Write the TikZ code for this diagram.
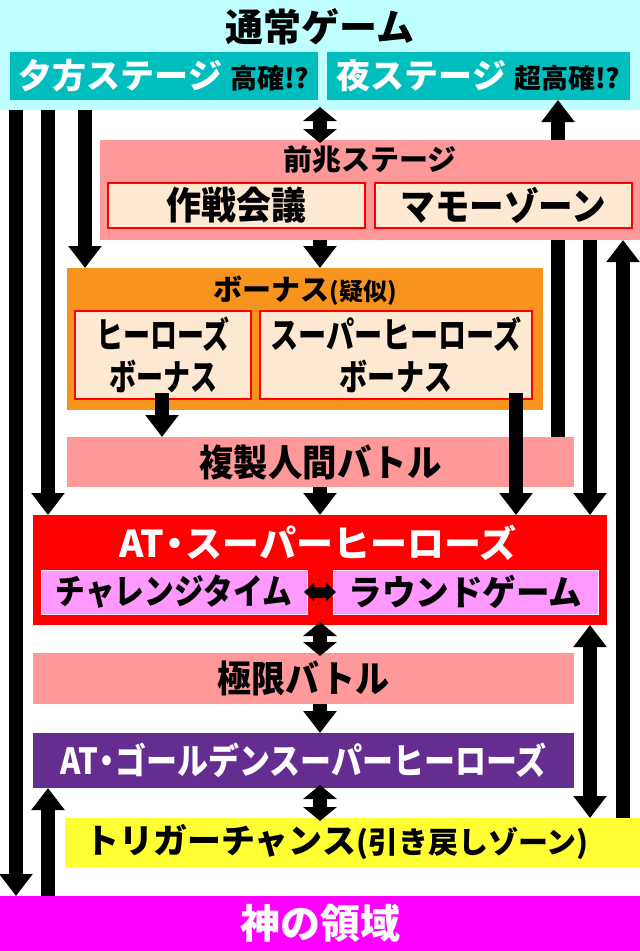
\documentclass[tikz,border=0pt]{standalone}
\usepackage{fontspec}
\usepackage{graphicx}
\usepackage{xcolor}
\usepackage{tikz}
\usetikzlibrary{arrows.meta}
\IfFontExistsTF{Noto Sans CJK JP Black}{\newfontfamily\jp{Noto Sans CJK JP Black}}{%
  \IfFontExistsTF{Noto Sans CJK JP Bold}{\newfontfamily\jp{Noto Sans CJK JP Bold}[FakeBold=1]}{\newfontfamily\jp{Noto Sans CJK JP}[FakeBold=2]}}
\definecolor{cyanbg}{HTML}{BFFFFF}
\definecolor{teal}{HTML}{00BEBE}
\definecolor{pinkbg}{HTML}{FF9999}
\definecolor{peach}{HTML}{FDE8D2}
\definecolor{orangebg}{HTML}{F7941D}
\definecolor{violet}{HTML}{FF99FF}
\definecolor{purplebg}{HTML}{662D91}
\definecolor{yellowbg}{HTML}{FFFF33}
\definecolor{magentabg}{HTML}{FF00FF}
\newcommand{\fs}[1]{\fontsize{#1}{#1}\selectfont}
\newcommand{\sq}[2]{\scalebox{#1}[1]{#2}}
\newcommand{\atdot}{\hspace{-8pt}・\hspace{-8pt}}

\begin{document}
\begin{tikzpicture}[x=1pt,y=-1pt,
    panel/.style={inner sep=0pt,outer sep=0pt,font=\jp},
    subbox/.style={panel,fill=peach,draw=red,line width=1.5pt,align=center},
    pinkbox/.style={panel,fill=violet,draw=white!80!violet,line width=1pt},
    arr/.style={line width=14pt,-{Triangle[width=32pt,length=22pt]}},
    dbl/.style={line width=14pt,{Triangle[width=33pt,length=14pt]}-{Triangle[width=33pt,length=14pt]},shorten <=-3pt,shorten >=-3pt},
    bar/.style={line width=14pt}]
    \useasboundingbox (0,0) rectangle (640,951);
    \node[panel,fill=cyanbg,minimum width=640pt,minimum height=110pt] (band) at (320,55) {};
    \node[panel] (tsujo) at (320,27) {\fs{38}通常ゲーム};
    \node[panel,fill=teal,minimum width=308pt,minimum height=48pt] (yuugata) at (164,76)
        {{\fs{34}\color{white}夕方ステージ}\hspace{8pt}{\fs{27}高確!?}};
    \node[panel,fill=teal,minimum width=303pt,minimum height=48pt] (yoru) at (478.5,76)
        {{\fs{34}\color{white}夜ステージ}\hspace{8pt}{\fs{27}超高確!?}};

    \node[panel,fill=pinkbg,minimum width=540pt,minimum height=100pt] (zencho) at (370,190) {};
    \node[panel] (zenchoT) at (370,160) {\fs{29}前兆ステージ};
    \node[subbox,minimum width=257pt,minimum height=45pt] (sakusen) at (236.5,205.5) {\sq{0.92}{\fs{38}作戦会議}};
    \node[subbox,minimum width=257pt,minimum height=45pt] (mamo) at (503.5,205.5) {\sq{0.91}{\fs{38}マモーゾーン}};

    \node[panel,fill=orangebg,minimum width=476pt,minimum height=142pt] (bonus) at (305,339) {};
    \node[panel] (bonusT) at (305,291) {{\fs{29}ボーナス}{\fs{24}(疑似)}};
    \node[subbox,minimum width=176pt,minimum height=88pt,font=\jp\fontsize{36}{42}\selectfont] (heroes) at (163,355)
        {\sq{0.75}{ヒーローズ}\\\sq{0.75}{ボーナス}};
    \node[subbox,minimum width=272pt,minimum height=88pt,font=\jp\fontsize{36}{42}\selectfont] (superheroes) at (396,355)
        {\sq{0.78}{スーパーヒーローズ}\\\sq{0.78}{ボーナス}};

    \node[panel,fill=pinkbg,minimum width=507pt,minimum height=50pt] (fukusei) at (320.5,462) {\sq{0.93}{\fs{37}複製人間バトル}};

    \node[panel,fill=red,minimum width=574pt,minimum height=110pt] (at) at (320,570) {};
    \node[panel] (atT) at (318,543) {\fs{37}\color{white}AT\atdot スーパーヒーローズ};
    \node[pinkbox,minimum width=266pt,minimum height=44pt] (challenge) at (174,592) {\sq{0.85}{\fs{35}チャレンジタイム}};
    \node[pinkbox,minimum width=265pt,minimum height=44pt] (round) at (465.5,592) {\sq{0.96}{\fs{35}ラウンドゲーム}};

    \node[panel,fill=pinkbg,minimum width=541pt,minimum height=51pt] (kyokugen) at (303.5,678.5) {\sq{0.92}{\fs{37}極限バトル}};
    \node[panel,fill=purplebg,minimum width=541pt,minimum height=55pt] (golden) at (303.5,760.5)
        {\color{white}\sq{0.86}{\fs{36}AT\atdot ゴールデンスーパーヒーローズ}};
    \node[panel,fill=yellowbg,minimum width=575pt,minimum height=49pt] (trigger) at (352.5,842.5) {};
    \node[panel] (triggerT) at (337,842) {{\fs{34}トリガーチャンス}{\fs{30}(引き戻しゾーン)}};
    \node[panel,fill=magentabg,minimum width=640pt,minimum height=55pt] (kami) at (320,923.5) {\color{white}\fs{40}神の領域};

    \coordinate (c1) at (16,0);
    \coordinate (c2) at (48,0);
    \coordinate (c3) at (85,0);
    \coordinate (cs) at (162,0);
    \coordinate (cm) at (320,0);
    \coordinate (ch) at (516,0);
    \coordinate (ce) at (558,0);
    \coordinate (cf) at (590,0);
    \coordinate (cg) at (623,0);

    \draw[arr] (band.south -| c1) -- (kami.north -| c1);
    \draw[arr] (band.south -| c2) -- (at.north -| c2);
    \draw[arr] (band.south -| c3) -- (bonus.north -| c3);
    \draw[dbl] (band.south -| cm) -- (zencho.north -| cm);
    \draw[arr] (zencho.north -| ce) -- (yoru.south -| ce);
    \draw[bar] (fukusei.north -| ce) -- (zencho.south -| ce);
    \draw[arr] (zencho.south -| cm) -- (bonus.north -| cm);
    \draw[arr] (zencho.south -| cf) -- (at.north -| cf);
    \draw[arr] (trigger.north -| cg) -- (zencho.south -| cg);
    \draw[arr,shorten <=-6pt] (heroes.south -| cs) -- (fukusei.north -| cs);
    \draw[arr,shorten <=-6pt] (superheroes.south -| ch) -- (at.north -| ch);
    \draw[arr] (fukusei.south -| cm) -- (at.north -| cm);
    \draw[line width=11pt,{Triangle[width=18pt,length=10pt]}-{Triangle[width=18pt,length=10pt]},shorten <=-3pt,shorten >=-3pt]
        (challenge.east) -- (round.west);
    \draw[dbl] (at.south -| cm) -- (kyokugen.north -| cm);
    \draw[arr] (kyokugen.south -| cm) -- (golden.north -| cm);
    \draw[dbl] (golden.south -| cm) -- (trigger.north -| cm);
    \draw[line width=14pt,{Triangle[width=32pt,length=22pt]}-{Triangle[width=32pt,length=22pt]}]
        (at.south -| cf) -- (trigger.north -| cf);
    \draw[arr] (kami.north -| c2) -- (golden.south -| c2);
\end{tikzpicture}
\end{document}
